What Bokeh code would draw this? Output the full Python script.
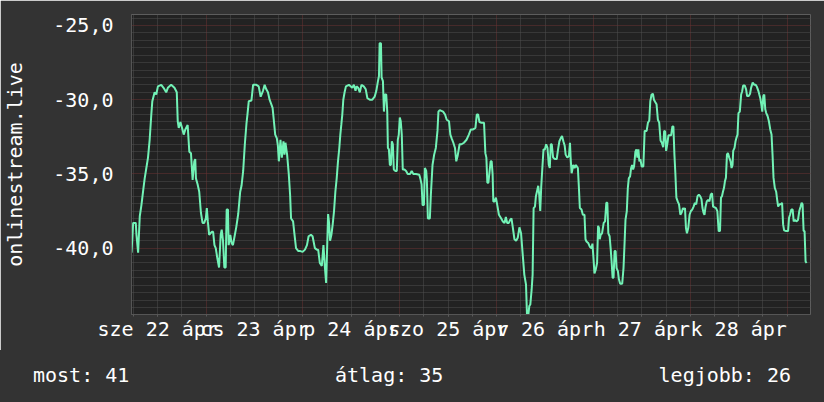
from bokeh.plotting import figure
from bokeh.models import Range1d, FixedTicker, Div
from bokeh.layouts import column
from bokeh.embed import file_html
from bokeh.resources import INLINE

# time in hours since 2020-04-22 00:00, signal value
hours = [
    5.50, 5.91, 6.56, 6.73, 7.14, 7.55, 7.96, 8.36, 8.77, 9.18, 9.59, 10.00, 10.41, 10.66,
    11.23, 11.64, 12.05, 12.87, 13.44, 14.10, 14.51, 15.33, 16.15, 16.72, 16.96, 17.21,
    17.62, 18.03, 18.44, 18.85, 19.42, 19.83, 20.24, 20.65, 21.06, 21.30, 21.47, 21.88,
    22.29, 22.70, 23.11, 23.52, 23.93, 24.17, 24.42, 24.75, 25.40, 25.73, 26.06, 26.38,
    26.79, 27.20, 27.61, 27.86, 28.18, 28.51, 28.84, 29.09, 29.41, 29.58, 29.99, 30.31,
    30.64, 31.05, 31.46, 31.95, 32.44,
    32.77, 33.18, 33.59, 34.00, 34.24, 34.57, 35.23, 35.64, 36.46, 37.03, 37.52, 38.09,
    38.50, 38.91, 39.32, 39.73, 40.14, 40.47, 40.80, 41.12, 41.53, 41.78, 42.02, 42.43,
    42.76, 43.17, 43.42, 43.66, 44.07, 44.48, 44.81, 45.05, 45.55, 45.87, 46.28, 46.86,
    47.35, 47.92, 48.50, 48.99, 49.40, 49.97, 50.38, 50.95, 51.44, 51.77, 52.18, 52.67,
    53.08, 53.41, 53.74, 54.23, 54.47, 54.72, 55.05, 55.37, 55.70, 56.03, 56.36, 56.68,
    57.01, 57.26, 57.50, 57.75, 58.00, 58.32, 58.65, 59.39, 60.21, 60.62, 61.03,
    61.27, 61.68, 62.09, 62.50, 63.07, 63.56, 63.97, 64.55, 65.20, 65.77, 66.18, 66.59,
    66.84, 67.00, 67.33, 67.49, 67.82, 68.07, 68.31, 68.64, 68.89, 69.05, 69.30, 69.54,
    69.79, 70.03, 70.28, 70.52, 70.93, 71.26, 71.51, 71.75, 72.00, 72.24, 72.49, 72.74,
    73.15, 73.56, 73.96, 74.54, 74.95, 75.36, 76.01, 76.83, 77.08, 77.40, 77.65, 77.98,
    78.22, 78.55, 78.71, 78.96, 79.45, 79.70, 80.11, 80.52, 80.93, 81.34, 81.58, 81.91,
    82.73, 83.22, 83.63, 84.20, 84.53, 84.86, 85.27, 85.68, 86.00, 86.33, 86.82, 87.31,
    87.89, 88.54, 89.12, 89.61,
    89.77, 90.18, 90.75, 91.08, 91.41, 91.74, 92.23, 92.88, 93.21, 93.46, 93.70, 93.95,
    94.27, 94.52, 94.77, 95.01, 95.18, 95.50, 95.83, 96.16, 96.57, 97.14, 97.55, 97.96,
    98.29, 98.62, 99.02, 99.35, 99.68, 100.01, 100.42, 100.83, 101.24, 101.65, 102.06,
    102.46, 102.87, 103.28, 103.53, 103.86, 104.10, 104.35, 104.68, 104.92, 105.17, 105.50,
    105.74, 105.99, 106.31, 106.56, 106.81, 107.05, 107.38, 107.62, 107.95, 108.28, 108.61,
    108.93, 109.18, 109.43, 109.67, 110.00, 110.41, 110.90, 111.23, 111.56, 111.88, 112.21,
    112.54, 112.87, 113.11, 113.52, 113.93, 114.18, 114.34, 114.59, 115.00, 115.32, 115.65,
    116.14, 116.39, 116.63, 117.04, 117.37, 117.78, 118.03,
    118.28, 118.69, 119.10, 119.51, 119.75, 120.00, 120.25, 120.57, 120.90, 121.15, 121.39,
    121.56, 121.80, 122.13, 122.54, 122.87, 123.19, 123.44, 123.69, 124.01, 124.26, 124.50,
    124.75, 124.98, 125.24, 125.49, 125.73, 126.06, 126.31, 126.63, 127.13, 127.45, 127.70,
    127.94, 128.27, 128.52, 128.76, 129.09, 129.34, 129.58, 129.83, 130.07, 130.40, 130.65,
    130.89, 131.14, 131.38, 131.63, 131.96, 132.37, 132.69, 133.19, 133.51, 133.84, 134.09,
    134.41, 134.74, 134.99, 135.31, 135.64, 135.97, 136.30, 136.63, 136.95, 137.28, 137.53,
    137.77, 138.02, 138.35, 138.59, 139.25, 139.57, 139.82, 140.07, 140.31, 140.56, 140.88,
    141.21, 141.54, 141.87, 142.19, 142.44, 142.69, 142.93, 143.18, 143.50, 143.83, 144.16,
    144.49, 144.82, 145.14, 145.47, 145.80, 146.13, 146.45,
    146.78, 147.03, 147.27, 147.52, 147.76, 148.09, 148.42, 148.75, 149.07, 149.40, 149.65,
    150.06, 150.38, 150.71, 151.04, 151.37, 151.61, 151.86, 152.10, 152.35, 152.59, 152.84,
    153.09, 153.33, 153.66, 153.99, 154.23, 154.48, 154.64, 154.97, 155.22, 155.46, 155.71,
    155.95, 156.28, 156.61, 156.85, 157.10, 157.51, 157.84, 158.08, 158.49, 158.82, 159.07,
    159.47, 159.88, 160.21, 160.54, 160.87, 161.11, 161.36, 161.60, 161.85, 162.10, 162.34,
    162.59, 162.83, 163.16, 163.49, 163.82, 164.14, 164.39, 164.63, 164.96, 165.29, 165.54,
    165.78, 166.11, 166.44, 166.76, 167.01, 167.26, 167.75, 168.24, 168.48, 168.73, 169.06,
    169.38, 169.63, 169.96, 170.29, 170.70, 171.02, 171.35, 171.60, 171.84, 172.09, 172.33,
    172.58, 172.83,
]
values = [
    -40.3, -38.3, -38.3, -39.1, -40.3, -37.85, -37.1, -36.2, -35.3, -34.6, -33.9, -32.7, -31.0, -30.1,
    -29.5, -29.65, -29.1, -29.0, -29.2, -29.5, -29.2, -29.0, -29.2, -29.5, -31.45, -31.9,
    -31.5, -31.9, -32.35, -32.0, -31.7, -33.5, -33.6, -35.4, -34.15, -34.0, -35.3, -35.7,
    -36.2, -37.6, -38.3, -38.3, -38.0, -37.3, -38.2, -39.1, -38.9, -38.9, -39.8, -40.0,
    -40.7, -41.3, -39.1, -38.75, -39.5, -41.3, -41.3, -37.4, -37.4, -39.8, -39.1, -39.65,
    -39.8, -39.2, -38.6, -37.7, -36.2,
    -35.8, -34.8, -33.0, -31.6, -31.0, -30.1, -30.05, -29.0, -29.0, -29.1, -29.8, -29.4,
    -29.0, -29.3, -29.5, -30.0, -30.3, -30.55, -31.45, -32.35, -32.6, -33.1, -34.15, -32.7,
    -33.9, -32.8, -33.7, -32.9, -33.7, -35.0, -36.4, -38.0, -38.2, -39.0, -40.0, -40.2,
    -40.2, -40.25, -40.1, -39.8, -39.2, -39.1, -39.2, -40.0, -40.1, -40.1, -41.0, -41.2,
    -39.8, -41.2, -42.35, -37.7, -38.3, -39.5, -39.1, -38.4, -37.5, -36.2, -35.3, -34.15,
    -33.25, -32.35, -31.7, -31.0, -30.0, -29.5, -29.1, -29.0, -29.2, -29.0, -29.4,
    -29.1, -29.2, -29.5, -29.0, -29.1, -29.3, -29.9, -30.0, -30.0, -29.8, -29.4, -28.75,
    -28.4, -26.2, -26.2, -28.5, -28.75, -30.8, -29.65, -29.65, -30.8, -33.25, -33.35, -34.4,
    -34.4, -32.8, -33.0, -34.7, -34.8, -34.8, -32.7, -32.35, -31.2, -31.45, -32.35, -34.7,
    -34.7, -34.8, -35.0, -35.0, -34.8, -35.0, -35.0, -35.05, -35.3, -35.7, -37.1, -37.1,
    -34.6, -34.8, -35.4, -38.0, -38.0, -36.4, -34.4, -33.7, -33.25, -32.1, -30.8, -30.7,
    -30.8, -31.0, -31.35, -31.45, -32.35, -32.6, -32.9, -33.25, -34.15, -33.8, -33.0, -33.0,
    -32.9, -32.7, -32.35, -32.0,
    -32.0, -32.0, -31.9, -31.0, -31.0, -31.5, -31.55, -31.55, -33.6, -33.9, -35.6, -35.6,
    -34.8, -34.15, -34.15, -35.05, -36.85, -36.85, -36.6, -37.1, -37.75, -38.0, -38.2, -38.3,
    -37.9, -38.3, -38.3, -38.1, -38.0, -38.6, -39.4, -39.5, -39.3, -38.6, -39.0,
    -40.4, -41.8, -42.45, -44.5, -44.5, -43.9, -43.8, -42.8, -41.8, -37.3, -37.2,
    -36.5, -36.2, -35.8, -36.4, -37.5, -35.9, -34.4, -33.35, -33.35, -33.0, -33.25,
    -34.4, -34.6, -33.0, -33.0, -33.9, -34.0, -34.0, -33.35, -32.8, -32.6, -32.45,
    -32.8, -33.1, -33.7, -33.9, -33.8, -32.9, -33.9, -34.95, -34.4, -34.6, -34.4,
    -34.6, -35.9, -37.3, -37.4, -37.75, -37.75, -39.4,
    -39.55, -39.65, -39.9, -40.0, -39.7, -40.65, -41.7, -41.45, -41.0, -38.5, -38.65,
    -39.4, -39.1, -39.0, -38.3, -38.2, -36.95, -36.95, -39.0, -39.2, -40.0, -40.9,
    -42.0, -42.0, -40.2, -40.2, -41.35, -41.55, -42.1, -42.4, -42.4, -41.35, -39.75,
    -38.1, -37.5, -35.95, -35.3, -35.15, -34.6, -34.4, -34.7, -34.5, -33.5, -33.35,
    -33.9, -33.35, -34.15, -34.0, -34.5, -34.5, -32.1, -32.1, -31.55, -31.4, -30.1,
    -29.65, -29.6, -30.0, -30.15, -30.3, -31.35, -31.55, -32.75, -32.9, -33.2, -32.1,
    -32.15, -33.45, -32.9, -32.4, -32.4, -31.8, -31.8, -33.7, -35.0, -36.6, -36.85,
    -37.05, -37.75, -37.6, -37.3, -37.4, -37.3, -38.65, -39.0, -38.65, -37.75, -37.5,
    -37.4, -37.2, -36.95, -37.05, -36.5, -36.4, -36.5,
    -36.7, -37.3, -37.6, -37.75, -37.25, -36.85, -36.75, -36.85, -36.4, -36.3, -37.2,
    -37.25, -37.3, -37.5, -38.85, -38.85, -36.6, -36.5, -36.2, -35.95, -35.5, -35.25,
    -33.7, -33.6, -33.9, -34.15, -34.6, -34.4, -33.45, -33.25, -32.8, -32.55, -32.35,
    -30.9, -30.8, -29.65, -29.45, -29.05, -29.05, -29.3, -29.75, -29.75, -29.6, -29.2,
    -28.85, -29.0, -29.0, -29.15, -29.4, -29.65, -29.9, -30.3, -30.8, -29.75, -29.65,
    -30.65, -30.9, -31.1, -31.45, -32.0, -32.35, -33.7, -35.25, -35.95, -36.2, -36.75,
    -37.2, -37.05, -37.05, -36.95, -38.4, -38.8, -38.85, -38.85, -37.95, -37.75, -37.4,
    -37.4, -38.2, -38.1, -38.2, -38.1, -37.5, -37.2, -36.95, -37.05, -38.85, -38.85,
    -40.9, -41.0,
]

day_hours = [12, 36, 60, 84, 108, 132, 156]
day_labels = ["sze 22 ápr", "cs 23 ápr", "p 24 ápr", "szo 25 ápr", "v 26 ápr", "h 27 ápr", "k 28 ápr"]
y_ticks = [-40, -35, -30, -25]
y_tick_labels = ["-40,0", "-35,0", "-30,0", "-25,0"]
axis_title = "onlinestream.live"
stat_names = ["most", "átlag", "legjobb"]
stat_values = [41, 35, 26]

FONT = "DejaVu Sans Mono"
BG = "#333333"
CANVAS = "#222222"
LINE = "#72f2b6"
MINOR = "#4e4e4e"
MAJOR = "#6a3232"

W = 824
X0, X1 = 5.5, 173.8
Y0, Y1 = -44.47, -24.26

p = figure(width=W, height=350, output_backend="svg", toolbar_location=None,
           x_range=Range1d(X0, X1), y_range=Range1d(Y0, Y1),
           min_border_left=125, min_border_right=14, min_border_top=14, min_border_bottom=36,
           background_fill_color=CANVAS, border_fill_color=BG, outline_line_color=None)

# grids
p.xgrid.ticker = FixedTicker(ticks=[24 * k for k in range(8)],
                             minor_ticks=[6 * k for k in range(30) if k % 4])
p.xgrid.grid_line_color = MAJOR
p.xgrid.grid_line_dash = "1 1"
p.xgrid.minor_grid_line_color = MINOR
p.xgrid.minor_grid_line_dash = "1 1"
p.ygrid.ticker = FixedTicker(ticks=[-45, -40, -35, -30, -25],
                             minor_ticks=[-45 + 0.5 * k for k in range(42) if k % 10])
p.ygrid.grid_line_color = MAJOR
p.ygrid.grid_line_dash = "1 1"
p.ygrid.minor_grid_line_color = MINOR
p.ygrid.minor_grid_line_dash = "1 1"

p.line(hours, values, line_color=LINE, line_width=2)

# x axis
xa = p.xaxis[0]
xa.ticker = FixedTicker(ticks=day_hours, minor_ticks=[6 * k for k in range(30)])
xa.major_label_overrides = dict(zip(day_hours, day_labels))
xa.major_label_text_font = FONT
xa.major_label_text_font_size = "20px"
xa.major_label_text_color = "#ffffff"
xa.major_label_standoff = 0
xa.major_tick_in = 0
xa.major_tick_out = 2
xa.minor_tick_in = 0
xa.minor_tick_out = 2
xa.major_tick_line_color = "#5a5a5a"
xa.minor_tick_line_color = "#5a5a5a"
xa.axis_line_color = "#555555"

# y axis
ya = p.yaxis[0]
ya.ticker = FixedTicker(ticks=y_ticks)
ya.major_label_overrides = dict(zip(y_ticks, y_tick_labels))
ya.major_label_text_font = FONT
ya.major_label_text_font_size = "20px"
ya.major_label_text_color = "#ffffff"
ya.major_label_standoff = 18
ya.major_tick_in = 0
ya.major_tick_out = 0
ya.minor_tick_line_color = None
ya.major_tick_line_color = None
ya.axis_line_color = "#555555"
ya.axis_label = axis_title
ya.axis_label_text_font = FONT
ya.axis_label_text_font_size = "20px"
ya.axis_label_text_font_style = "normal"
ya.axis_label_text_color = "#ffffff"
ya.axis_label_standoff = 23

# footer statistics
positions = ["left:33px", "left:335px", "right:33px"]
spans = "".join(
    f'<span style="position:absolute;{pos};top:13px;">{name}: {val}</span>'
    for name, val, pos in zip(stat_names, stat_values, positions)
)
footer = Div(
    text=(f'<div style="position:relative;width:{W}px;height:52px;background:{BG};'
          f'font-family:\'{FONT}\';font-size:20px;line-height:24px;color:#ffffff;'
          f'white-space:pre;">{spans}</div>'),
    width=W, height=52, margin=0,
    styles={"background-color": BG},
)

layout = column(p, footer, spacing=0)

open("out.html", "w").write(file_html(layout, INLINE))
